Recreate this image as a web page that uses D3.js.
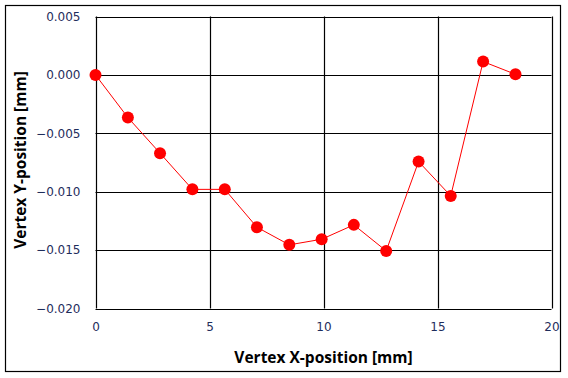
<!DOCTYPE html>
<html>
<head>
<meta charset="utf-8">
<script src="https://cdn.jsdelivr.net/npm/d3@7"></script>
<style>
  body { margin: 0; background: #fff; }
  svg { display: block; }
</style>
</head>
<body>
<div id="chart"></div>
<script>
// data
const xValues = [0, 1.42, 2.83, 4.25, 5.67, 7.08, 8.5, 9.92, 11.33, 12.75, 14.17, 15.58, 17.0, 18.42];
const yValues = [0, -0.00365, -0.0067, -0.0098, -0.0098, -0.01304, -0.01455, -0.01407, -0.01284, -0.01507, -0.00742, -0.01036, 0.00114, 0.00005];
const xTicks = [0, 5, 10, 15, 20];
const yTicks = [0.005, 0, -0.005, -0.01, -0.015, -0.02];

const width = 568, height = 378;
const margin = { top: 16.5, right: 16.5, bottom: 69.5, left: 95.5 };

const svg = d3.select("#chart").append("svg")
  .attr("width", width)
  .attr("height", height);

// outer frame
svg.append("rect")
  .attr("x", 5.5).attr("y", 5.5)
  .attr("width", 555).attr("height", 366)
  .attr("fill", "#fff")
  .attr("stroke", "#000")
  .attr("stroke-width", 1.2);

const x = d3.scaleLinear().domain([0, 20]).range([margin.left, width - margin.right]);
const y = d3.scaleLinear().domain([-0.02, 0.005]).range([308.5, margin.top]);

// gridlines
const grid = svg.append("g").attr("stroke", "#000").attr("stroke-width", 1.2);
grid.selectAll(".gx").data(xTicks).enter().append("line")
  .attr("x1", d => Math.round(x(d)) + 0.5).attr("x2", d => Math.round(x(d)) + 0.5)
  .attr("y1", y(0.005)).attr("y2", y(-0.02));
grid.selectAll(".gy").data(yTicks).enter().append("line")
  .attr("x1", x(0)).attr("x2", x(20))
  .attr("y1", d => Math.round(y(d)) + 0.5).attr("y2", d => Math.round(y(d)) + 0.5);

// tick labels via axes, lines hidden
const xAxis = svg.append("g")
  .attr("transform", `translate(0,${y(-0.02)})`)
  .call(d3.axisBottom(x).tickValues(xTicks).tickSize(0).tickPadding(14).tickFormat(d3.format("d")));
const yAxis = svg.append("g")
  .attr("transform", `translate(${x(0)},0)`)
  .call(d3.axisLeft(y).tickValues(yTicks).tickSize(0).tickPadding(15).tickFormat(d3.format(".3f")));
[xAxis, yAxis].forEach(a => {
  a.select(".domain").remove();
  a.selectAll("text")
    .attr("font-family", "'DejaVu Sans', sans-serif")
    .attr("font-size", 12)
    .attr("fill", "#1f2d5c");
});

// series line and markers
const pts = xValues.map((d, i) => [d, yValues[i]]);
svg.append("path")
  .datum(pts)
  .attr("fill", "none")
  .attr("stroke", "#ff0000")
  .attr("stroke-width", 1)
  .attr("d", d3.line().x(d => x(d[0])).y(d => y(d[1])));
svg.selectAll(".pt").data(pts).enter().append("circle")
  .attr("cx", d => x(d[0]))
  .attr("cy", d => y(d[1]))
  .attr("r", 6)
  .attr("fill", "#ff0000");

// axis titles
svg.append("text")
  .attr("x", (x(0) + x(20)) / 2)
  .attr("y", 363)
  .attr("text-anchor", "middle")
  .attr("font-family", "'Open Sans', sans-serif")
  .attr("font-weight", "bold")
  .attr("font-size", 15.5)
  .text("Vertex X-position [mm]");
svg.append("text")
  .attr("transform", `translate(26,160) rotate(-90)`)
  .attr("text-anchor", "middle")
  .attr("font-family", "'Open Sans', sans-serif")
  .attr("font-weight", "bold")
  .attr("font-size", 15.5)
  .text("Vertex Y-position [mm]");
</script>
</body>
</html>
